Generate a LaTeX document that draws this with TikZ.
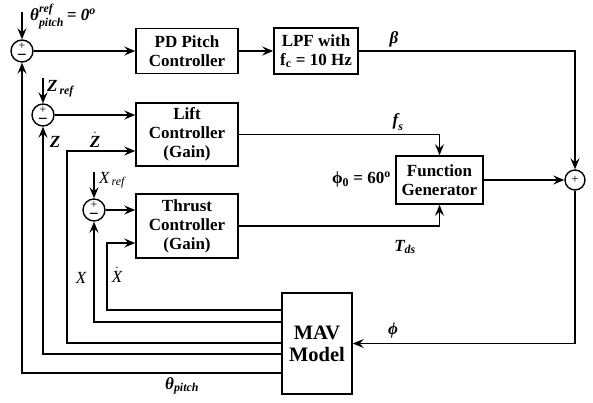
\documentclass[tikz,border=0pt]{standalone}
\usepackage{amsmath}
\usepackage{fontspec}
\setmainfont{Liberation Serif}
\usepackage{tikz}
\usetikzlibrary{calc,arrows.meta,positioning}
\newcommand{\bi}[1]{\text{\bfseries\itshape #1}}
\newcommand{\ti}[1]{\text{\itshape #1}}
\tikzset{
  ar/.style={-{Stealth[length=11pt,width=9pt,inset=4pt]},line width=1.3pt},
  blk/.style={draw,line width=1.6pt,align=center,inner sep=2pt,font=\fontsize{17}{19}\selectfont\bfseries},
  sm/.style={circle,draw,line width=1.4pt,minimum size=22pt,inner sep=0pt},
  lbl/.style={font=\fontsize{17}{19}\selectfont,inner sep=0pt}
}
\begin{document}
\begin{tikzpicture}[x=1pt,y=-1pt]
\useasboundingbox (0,0) rectangle (593,403);
\node[sm] (sP) at (22,51) {};
\node[sm] (sZ) at (43,115) {};
\node[sm] (sX) at (94,210) {};
\node[sm,minimum size=20pt] (sR) at (575,180) {};
\foreach \s in {sP,sZ,sX}{
  \node[font=\fontsize{12}{12}\selectfont,inner sep=0pt] at ([yshift=5pt]\s.center) {+};
  \node[font=\fontsize{17}{17}\selectfont\bfseries,inner sep=0pt] at ([yshift=-6pt]\s.center) {−};
}
\node[font=\fontsize{13}{13}\selectfont,inner sep=0pt] at (sR.center) {+};
\node[blk,minimum width=102pt,minimum height=45pt] (pd) at (187,51) {PD Pitch\\Controller};
\node[blk,minimum width=84pt,minimum height=46pt] (lpf) at (316,51) {LPF with\\f\textsubscript{c} = 10 Hz};
\node[blk,minimum width=102pt,minimum height=63pt] (lift) at (187,134.5) {Lift\\Controller\\(Gain)};
\node[blk,minimum width=102pt,minimum height=64pt] (thr) at (187,226) {Thrust\\Controller\\(Gain)};
\node[blk,minimum width=87pt,minimum height=48pt] (fg) at (439.5,180) {Function\\Generator};
\node[blk,font=\fontsize{20.5}{22}\selectfont\bfseries,minimum width=70pt,minimum height=101pt] (mav) at (317,343.5) {MAV\\Model};
\coordinate (rP) at (22,12);
\coordinate (rZ) at (43,78);
\coordinate (rX) at (94,172);
\coordinate (cZd) at (67,151);
\coordinate (cXd) at (107,243);
\foreach \nm/\yy in {mXd/310,mX/322,mZd/343,mZ/354,mT/373}
  \coordinate (\nm) at (282,\yy);
\draw[ar] (rP) -- (sP.north);
\draw[ar] (rZ) -- (sZ.north);
\draw[ar] (rX) -- (sX.north);
\draw[ar] (sP) -- (pd);
\draw[ar] (pd) -- (lpf);
\draw[ar] (lpf.east) -| (sR.north);
\draw[ar] (sZ.east) -- (sZ.east -| lift.west);
\draw[ar] (sX.east) -- (sX.east -| thr.west);
\draw[ar] (lift.east) -| (fg.north);
\draw[ar] (thr.east) -| (fg.south);
\draw[ar] (fg.east) -- (sR.west);
\draw[ar] (sR.south) |- (mav.east);
\draw[ar] (mT) -| (sP.south);
\draw[ar] (mZ) -| (sZ.south);
\draw[ar] (mZd) -| (cZd) -- (cZd -| lift.west);
\draw[ar] (mX) -| (sX.south);
\draw[ar] (mXd) -| (cXd) -- (cXd -| thr.west);
\node[lbl,anchor=base west] (lP) at (30,21) {$\bi{θ}^{\bi{ref}}_{\bi{pitch}}\,\bi{= 0\textsuperscript{o}}$};
\node[lbl,anchor=base west] (lZr) at (47,92) {$\bi{Z}_{\,\bi{ref}}$};
\node[lbl,anchor=base west] (lXr) at (99,183) {$\ti{X}_{\,\ti{ref}}$};
\node[lbl] (lZ) at (55,142) {$\bi{Z}$};
\node[lbl] (lZd) at (95,140) {$\dot{\bi{Z}}$};
\node[lbl] (lX) at (81,278) {$\ti{X}$};
\node[lbl] (lXd) at (117,275) {$\dot{\ti{X}}$};
\node[lbl] (lb) at (394,39) {$\bi{β}$};
\node[lbl] (lf) at (398,122) {$\bi{f}_{\bi{s}}$};
\node[lbl] (lT) at (405,247) {$\bi{T}_{\bi{ds}}$};
\node[lbl,anchor=base east] (lphi0) at (391,184) {\bfseries ϕ\textsubscript{0} = 60\textsuperscript{o}};
\node[lbl] (lphi) at (393,330) {$\bi{ϕ}$};
\node[lbl,anchor=base west] (lTp) at (165,389) {$\bi{θ}_{\bi{pitch}}$};
\end{tikzpicture}
\end{document}
